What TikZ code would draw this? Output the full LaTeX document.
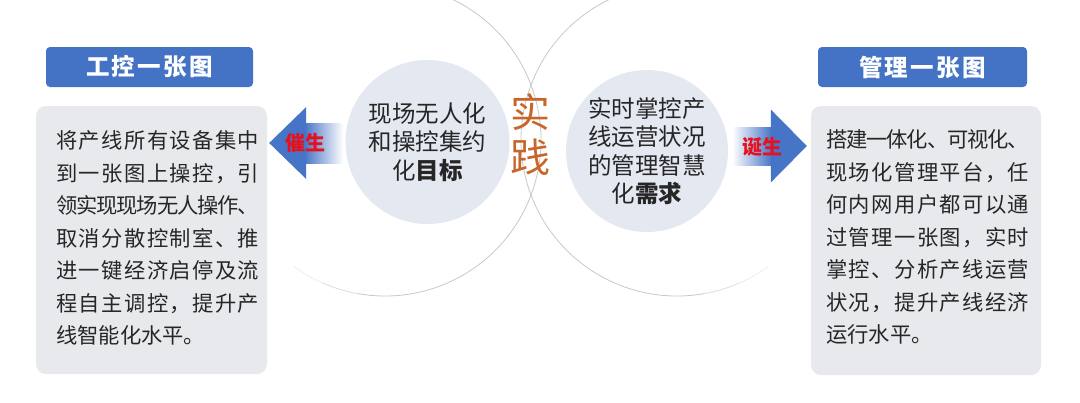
\documentclass[tikz,border=0pt]{standalone}
\usepackage{fontspec}
\setmainfont{Noto Sans CJK SC}
\usetikzlibrary{calc}
\definecolor{headblue}{RGB}{68,114,196}
\definecolor{arrowblue}{RGB}{70,116,198}
\definecolor{boxgray}{RGB}{231,233,237}
\definecolor{ballfill}{RGB}{228,232,241}
\definecolor{inkgray}{RGB}{38,38,38}
\definecolor{practiceorange}{RGB}{200,102,42}
\definecolor{verbred}{RGB}{232,16,28}
\definecolor{ringgray}{RGB}{200,200,200}
\makeatletter
\newcommand\fillline[1]{\leavevmode\hbox to 203pt{\let\gap\relax\@tfor\ch:=#1\do{\gap\ch\let\gap\chargap}}}
\newcommand\chargap{\hskip 0pt plus 1fil minus 1.3pt}
\makeatother

\begin{document}
\begin{tikzpicture}[x=1pt,y=-1pt]
	\tikzstyle{every node}+=[inner sep=0pt]
	\tikzstyle{headbox}=[fill=headblue,rounded corners=4pt,minimum height=40pt,text=white,font=\fontsize{23.5}{23.5}\selectfont\bfseries\addfontfeature{LetterSpace=10}]
	\tikzstyle{infobox}=[fill=boxgray,rounded corners=10pt,minimum height=268pt]
	\tikzstyle{bodytext}=[anchor=north west,align=left,text=inkgray,font=\fontsize{21.3}{32.5}\selectfont]
	\tikzstyle{ball}=[circle,fill=ballfill,minimum size=164pt,align=center,text=inkgray,font=\fontsize{23.5}{28.5}\selectfont]
	\tikzstyle{ring}=[draw=ringgray,line width=0.8pt]
	\tikzstyle{verb}=[text=verbred,font=\fontsize{20}{20}\selectfont\bfseries]
	\useasboundingbox (0,0) rectangle (1080,402);
	\fill [white] (0,0) rectangle (1080,402);
	% the two large rings
	\draw [ring] (385,140) ++(65:156pt) arc [start angle=65,end angle=-100,radius=156pt];
	\draw [ring,draw=ringgray!60] (385,140) ++(-100:156pt) arc [start angle=-100,end angle=-114,radius=156pt];
	\draw [ring,draw=ringgray!30] (385,140) ++(-114:156pt) arc [start angle=-114,end angle=-126,radius=156pt];
	\draw [ring] (677,140) ++(115:156pt) arc [start angle=115,end angle=280,radius=156pt];
	\draw [ring,draw=ringgray!60] (677,140) ++(280:156pt) arc [start angle=280,end angle=294,radius=156pt];
	\draw [ring,draw=ringgray!30] (677,140) ++(294:156pt) arc [start angle=294,end angle=306,radius=156pt];
	\node [headbox,minimum width=207pt] (ctrlhead) at (149.5,67) {工控一张图};
	\node [headbox,minimum width=209pt] (mgmthead) at (922.5,67) {管理一张图};
	\node [infobox,minimum width=231pt] (ctrlbox) at (151.5,240) {};
	\node [infobox,minimum width=230pt,minimum height=269pt] (mgmtbox) at (926,240.5) {};
	\node [bodytext] (ctrltext) at (56,130.5) {\fillline{将产线所有设备集中}\\\fillline{到一张图上操控，引}\\\fillline{领实现现场无人操作、}\\\fillline{取消分散控制室、推}\\\fillline{进一键经济启停及流}\\\fillline{程自主调控，提升产}\\线智能化水平。};
	\node [bodytext] (mgmttext) at (826,129.5) {\fillline{搭建一体化、可视化、}\\\fillline{现场化管理平台，任}\\\fillline{何内网用户都可以通}\\\fillline{过管理一张图，实时}\\\fillline{掌控、分析产线运营}\\\fillline{状况，提升产线经济}\\运行水平。};
	\node [ball] (goalball) at (427.5,142) {现场无人化\\和操控集约\\化\textbf{目标}};
	\node [ball,minimum size=162pt] (needball) at (647,151) {实时掌控产\\线运营状况\\的管理智慧\\化\textbf{需求}};
	\node [text=practiceorange,align=center,font=\fontsize{40}{45}\selectfont] (practice) at (530,134.5) {实\\践};
	% arrows
	\coordinate (ctrltip) at ($(ctrlbox.east|-goalball.center)+(2,1)$);
	\shade [left color=arrowblue,right color=white] ($(ctrltip)+(35,-19.5)$) rectangle ($(goalball.west)+(-2,21)$);
	\fill [arrowblue] (ctrltip) -- ++(37,-36) -- ++(0,72) -- cycle;
	\node [verb] (ctrlverb) at ($(ctrltip)+(36,0)$) {催生};
	\coordinate (needtip) at ($(mgmtbox.west|-needball.center)+(-4,-5)$);
	\shade [left color=white,right color=arrowblue] ($(needball.east)+(4,-24)$) rectangle ($(needtip)+(-35,19)$);
	\fill [arrowblue] (needtip) -- ++(-36,-36.5) -- ++(0,73) -- cycle;
	\node [verb] (needverb) at ($(needtip)+(-44,1)$) {诞生};
\end{tikzpicture}
\end{document}
